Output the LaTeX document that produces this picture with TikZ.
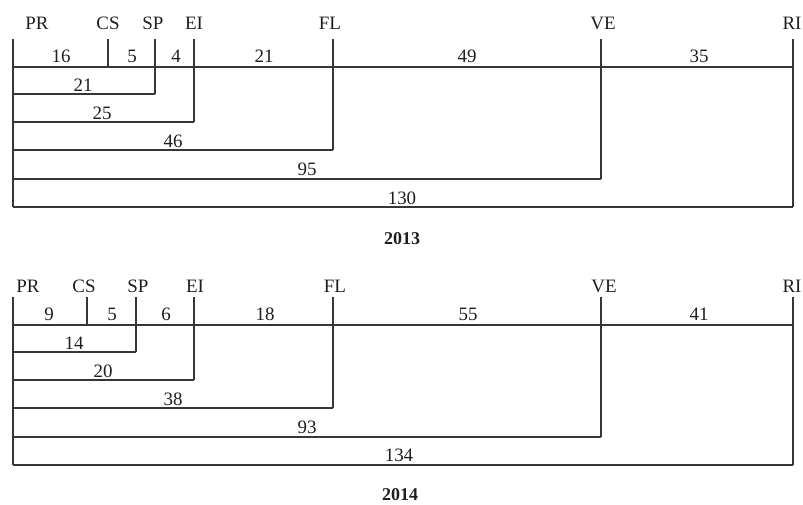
\documentclass[tikz,border=0pt]{standalone}
\usepackage{fontspec}
\setmainfont{Liberation Serif}
\definecolor{linecol}{HTML}{363636}
\definecolor{txtcol}{HTML}{1E1E1E}
\begin{document}
\begin{tikzpicture}[x=0.75pt,y=-0.75pt,
  bar/.style={draw=linecol,line width=1.05pt},
  lbl/.style={inner sep=0pt,text=txtcol,font=\fontsize{14.2}{16}\selectfont},
  yr/.style={inner sep=0pt,text=txtcol,font=\bfseries\fontsize{13.5}{15}\selectfont}]
\useasboundingbox (0,0) rectangle (803,504);

% ================= 2013 =================
\coordinate (aPRt) at (13,39);  \coordinate (aPRb) at (13,207);
\coordinate (aCSt) at (108,39); \coordinate (aCSb) at (108,67);
\coordinate (aSPt) at (155,39); \coordinate (aSPb) at (155,94);
\coordinate (aEIt) at (194,39); \coordinate (aEIb) at (194,122);
\coordinate (aFLt) at (333,39); \coordinate (aFLb) at (333,150);
\coordinate (aVEt) at (601,39); \coordinate (aVEb) at (601,179);
\coordinate (aRIt) at (793,39); \coordinate (aRIb) at (793,207);
\coordinate (aM0) at (13,67);   \coordinate (aM1) at (793,67);
\coordinate (aL1) at (13,94);   \coordinate (aL2) at (13,122);
\coordinate (aL3) at (13,150);  \coordinate (aL4) at (13,179);

\draw[bar] (aPRt) -- (aPRb);
\draw[bar] (aCSt) -- (aCSb);
\draw[bar] (aSPt) -- (aSPb);
\draw[bar] (aEIt) -- (aEIb);
\draw[bar] (aFLt) -- (aFLb);
\draw[bar] (aVEt) -- (aVEb);
\draw[bar] (aRIt) -- (aRIb);
\draw[bar] (aM0) -- (aM1);
\draw[bar] (aL1) -- (aSPb);
\draw[bar] (aL2) -- (aEIb);
\draw[bar] (aL3) -- (aFLb);
\draw[bar] (aL4) -- (aVEb);
\draw[bar] (aPRb) -- (aRIb);

\node[lbl] (aPR) at (37,23) {PR};
\node[lbl] (aCS) at (108,23) {CS};
\node[lbl] (aSP) at (153,23) {SP};
\node[lbl] (aEI) at (194,23) {EI};
\node[lbl] (aFL) at (330,23) {FL};
\node[lbl] (aVE) at (603,23) {VE};
\node[lbl] (aRI) at (792,23) {RI};

\node[lbl] (an16) at (61,56) {16};
\node[lbl] (an5)  at (132,56) {5};
\node[lbl] (an4)  at (176,56) {4};
\node[lbl] (an21) at (264,56) {21};
\node[lbl] (an49) at (467,56) {49};
\node[lbl] (an35) at (699,56) {35};

\node[lbl] (as21)  at (83,85) {21};
\node[lbl] (as25)  at (102,113) {25};
\node[lbl] (as46)  at (173,141) {46};
\node[lbl] (as95)  at (307,169) {95};
\node[lbl] (as130) at (402,198) {130};

\node[yr] (ayear) at (402,239) {2013};

% ================= 2014 =================
\coordinate (bPRt) at (13,297);  \coordinate (bPRb) at (13,465);
\coordinate (bCSt) at (87,297);  \coordinate (bCSb) at (87,325);
\coordinate (bSPt) at (136,297); \coordinate (bSPb) at (136,352);
\coordinate (bEIt) at (194,297); \coordinate (bEIb) at (194,380);
\coordinate (bFLt) at (333,297); \coordinate (bFLb) at (333,408);
\coordinate (bVEt) at (601,297); \coordinate (bVEb) at (601,437);
\coordinate (bRIt) at (793,297); \coordinate (bRIb) at (793,465);
\coordinate (bM0) at (13,325);   \coordinate (bM1) at (793,325);
\coordinate (bL1) at (13,352);   \coordinate (bL2) at (13,380);
\coordinate (bL3) at (13,408);   \coordinate (bL4) at (13,437);

\draw[bar] (bPRt) -- (bPRb);
\draw[bar] (bCSt) -- (bCSb);
\draw[bar] (bSPt) -- (bSPb);
\draw[bar] (bEIt) -- (bEIb);
\draw[bar] (bFLt) -- (bFLb);
\draw[bar] (bVEt) -- (bVEb);
\draw[bar] (bRIt) -- (bRIb);
\draw[bar] (bM0) -- (bM1);
\draw[bar] (bL1) -- (bSPb);
\draw[bar] (bL2) -- (bEIb);
\draw[bar] (bL3) -- (bFLb);
\draw[bar] (bL4) -- (bVEb);
\draw[bar] (bPRb) -- (bRIb);

\node[lbl] (bPR) at (28,286) {PR};
\node[lbl] (bCS) at (84,286) {CS};
\node[lbl] (bSP) at (138,286) {SP};
\node[lbl] (bEI) at (195,286) {EI};
\node[lbl] (bFL) at (335,286) {FL};
\node[lbl] (bVE) at (604,286) {VE};
\node[lbl] (bRI) at (792,286) {RI};

\node[lbl] (bn9)  at (49,314) {9};
\node[lbl] (bn5)  at (112,314) {5};
\node[lbl] (bn6)  at (166,314) {6};
\node[lbl] (bn18) at (265,314) {18};
\node[lbl] (bn55) at (468,314) {55};
\node[lbl] (bn41) at (699,314) {41};

\node[lbl] (bs14)  at (74,343) {14};
\node[lbl] (bs20)  at (103,371) {20};
\node[lbl] (bs38)  at (173,399) {38};
\node[lbl] (bs93)  at (307,427) {93};
\node[lbl] (bs134) at (399,455) {134};

\node[yr] (byear) at (400,495) {2014};
\end{tikzpicture}
\end{document}
